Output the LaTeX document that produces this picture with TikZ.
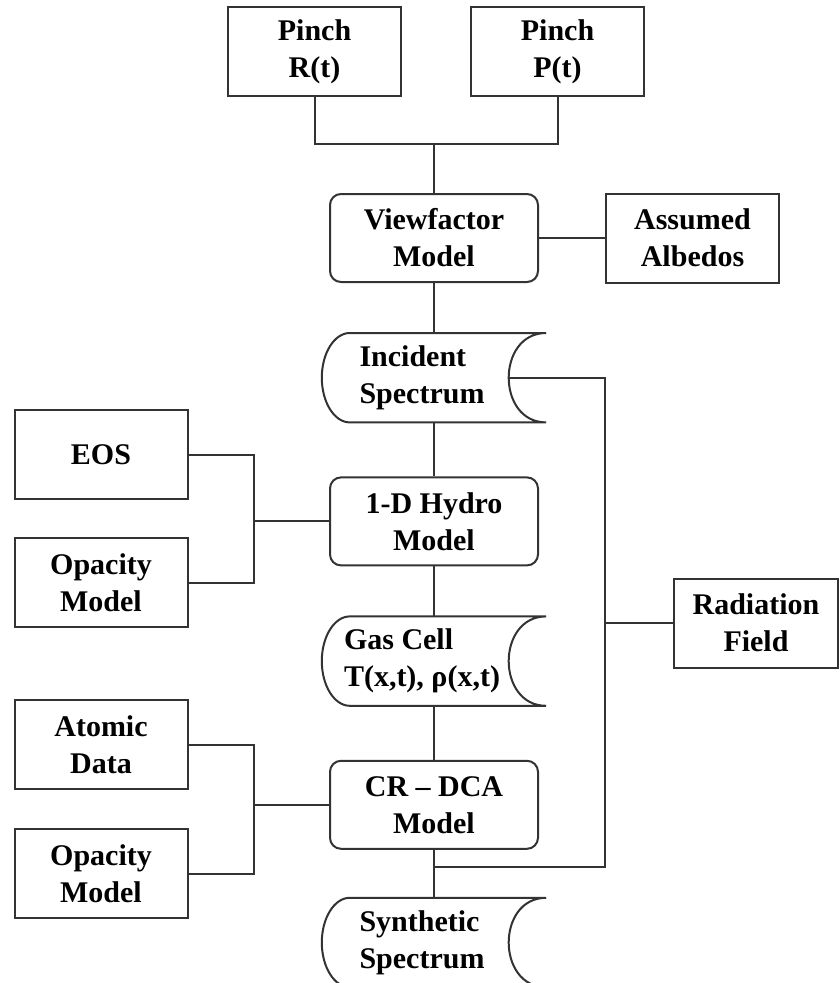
\documentclass[tikz,border=0pt]{standalone}
\usepackage{fontspec}
\setmainfont{Liberation Serif}
\usetikzlibrary{positioning}

\begin{document}
\begin{tikzpicture}[x=1pt, y=1pt,
        every node/.style={font=\fontsize{30}{37}\selectfont\bfseries, align=center},
        box/.style={rectangle, draw=black!80, line width=2pt, minimum width=173pt, minimum height=89pt, inner sep=2pt},
        model/.style={rectangle, rounded corners=11pt, draw=black!80, line width=2pt, minimum width=208pt, minimum height=88pt, inner sep=2pt},
        store/.style={rectangle, minimum width=224pt, minimum height=89pt, inner sep=2pt, align=left, execute at end node={\hspace*{24pt}}},
        link/.style={draw=black!80, line width=2pt},
    ]
    \useasboundingbox (0,0) rectangle (840,-983);

    \node[box] (pinchR) at (314.5,-51.5) {Pinch\\R(t)};
    \node[box] (pinchP) [right=68pt of pinchR] {Pinch\\P(t)};
    \node[model] (view) at (434,-238) {Viewfactor\\Model};
    \node[box] (albedo) [right=66pt of view] {Assumed\\Albedos};
    \node[store] (incident) [below=50pt of view] {Incident\\Spectrum};
    \node[model] (hydro) [below=54pt of incident] {1-D Hydro\\Model};
    \node[store] (gascell) [below=50pt of hydro] {Gas Cell\\T(x,t), ρ(x,t)};
    \node[model] (crdca) [below=54pt of gascell] {CR – DCA\\Model};
    \node[store] (synth) [below=48pt of crdca] {Synthetic\\Spectrum};

    \node[box] (eos) at (101,-454.5) {EOS};
    \node[box] (opac1) [below=37pt of eos] {Opacity\\Model};
    \node[box] (atomic) at (101,-744.5) {Atomic\\Data};
    \node[box] (opac2) [below=38pt of atomic] {Opacity\\Model};
    \node[box, minimum width=164pt] (radfield) at (756,-623) {Radiation\\Field};

    % stored data outlines
    \foreach \n in {incident,gascell,synth}
        \draw[link] ([xshift=28pt]\n.north west) -- (\n.north east)
            .. controls ([xshift=-50pt]\n.north east) and ([xshift=-50pt]\n.south east) .. (\n.south east)
            -- ([xshift=28pt]\n.south west)
            .. controls ([xshift=12.5pt]\n.south west) and ([yshift=-24.5pt]\n.west) .. (\n.west)
            .. controls ([yshift=24.5pt]\n.west) and ([xshift=12.5pt]\n.north west) .. cycle;

    \coordinate (jpinch) at (434,-144);
    \coordinate (jeos) at ([xshift=-75pt]hydro.west);
    \coordinate (jatom) at ([xshift=-75pt]crdca.west);
    \coordinate (rbus) at (albedo.west |- radfield);
    \coordinate (jcr) at (434,-867);

    \draw[link] (pinchR.south) |- (jpinch);
    \draw[link] (pinchP.south) |- (jpinch);
    \draw[link] (jpinch) -- (view.north);
    \draw[link] (view.east) -- (albedo.west);
    \draw[link] (view.south) -- (incident.north);
    \draw[link] (incident.south) -- (hydro.north);
    \draw[link] (hydro.south) -- (gascell.north);
    \draw[link] (gascell.south) -- (crdca.north);
    \draw[link] (crdca.south) -- (synth.north);

    \draw[link] (eos.east) -| (jeos) |- (opac1.east);
    \draw[link] (jeos) -- (hydro.west);
    \draw[link] (atomic.east) -| (jatom) |- (opac2.east);
    \draw[link] (jatom) -- (crdca.west);

    \draw[link] ([xshift=-37.5pt]incident.east) -| (rbus);
    \draw[link] (rbus) |- (jcr);
    \draw[link] (rbus) -- (radfield.west);
\end{tikzpicture}
\end{document}
